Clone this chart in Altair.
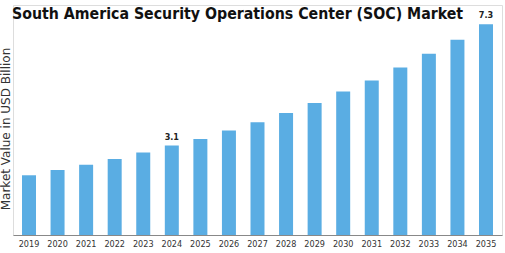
import altair as alt
import pandas as pd

years = [str(y) for y in range(2019, 2036)]
values = [2.07, 2.25, 2.43, 2.63, 2.86, 3.1, 3.33, 3.62, 3.91, 4.23,
          4.57, 4.97, 5.35, 5.80, 6.28, 6.77, 7.3]
labelled_years = ["2024", "2035"]

df = pd.DataFrame({"year": years, "value": values})
df["label"] = [f"{v:.1f}" if y in labelled_years else "" for y, v in zip(years, values)]

x = alt.X(
    "year:N",
    sort=years,
    title=None,
    scale=alt.Scale(paddingInner=0.51, paddingOuter=0.315),
    axis=alt.Axis(labelAngle=0, ticks=False, domainColor="#888888", labelFontSize=9,
                  labelColor="#333333", labelFont="DejaVu Sans Condensed", labelPadding=4),
)
y = alt.Y(
    "value:Q",
    title="Market Value in USD Billion",
    scale=alt.Scale(domain=[0, 7.97], nice=False, zero=True),
    axis=alt.Axis(labels=False, ticks=False, domain=False, grid=False,
                  titleFontSize=12, titleFontWeight="normal", titleColor="#333333",
                  titleFont="DejaVu Sans", titlePadding=0, titleX=-1, titleY=123.5,
                  titleAlign="center"),
)

bars = alt.Chart(df).mark_bar(color="#5aade3").encode(x=x, y=y)
labels = alt.Chart(df).mark_text(
    dy=-9, fontSize=9, fontWeight="bold", font="DejaVu Sans Condensed", color="#222222"
).encode(x=x, y=y, text="label:N")

chart = (
    alt.layer(bars, labels)
    .properties(
        width=489,
        height=230,
        padding={"left": 13, "top": 5, "right": 3, "bottom": 18},
        autosize=alt.AutoSizeParams(type="none"),
        title=alt.TitleParams(
            "South America Security Operations Center (SOC) Market",
            anchor="start", frame="group", fontSize=15.75, font="DejaVu Sans Condensed",
            fontWeight="bold", color="#111111", dx=-1, dy=18, offset=0,
        ),
    )
    .configure_view(stroke=None)
    .configure(background="white")
)

chart.save("out.html", embed_options={"renderer": "svg", "actions": False})
